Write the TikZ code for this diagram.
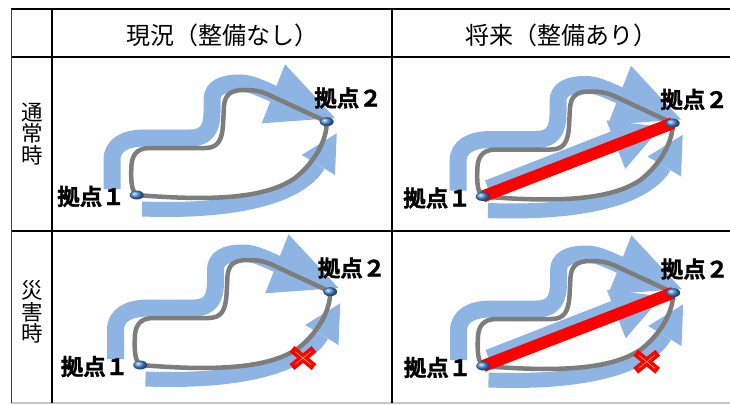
\documentclass[tikz,border=0pt]{standalone}
\usepackage{fontspec}
\usetikzlibrary{shapes.geometric}
\newfontfamily\jp{Noto Sans CJK JP}
\newfontfamily\jpb{Noto Sans CJK JP Bold}[FakeBold=1.5]
\definecolor{bandc}{RGB}{141,180,226}
\definecolor{road}{RGB}{125,125,125}
\definecolor{basec}{RGB}{75,140,215}
\definecolor{xin}{RGB}{255,190,40}
\tikzset{
 tbl/.style={line width=1.6pt, black},
 tblthin/.style={line width=1pt, black!75},
 tblbot/.style={line width=1.2pt, black!22},
 hdr/.style={font=\jp\fontsize{24}{26}\selectfont, inner sep=0pt},
 rowl/.style={font=\jp\fontsize{21.5}{21.5}\selectfont, align=center, inner sep=0pt},
 shaftA/.style={bandc, line width=17pt},
 shaftB/.style={bandc, line width=15pt},
 shaftC/.style={bandc, line width=18pt},
 arrowhd/.style={fill=bandc, draw=none},
 roadline/.style={road, line width=4.5pt, line cap=round},
 redline/.style={red, line width=12pt},
 basept/.style={ellipse, minimum width=14pt, minimum height=9pt, inner sep=0pt, ball color=basec},
 lbl/.style={font=\jpb\fontsize{22.5}{24}\selectfont, inner sep=0pt},
 xmark/.style={red, line width=7.5pt},
 xinner/.style={xin, line width=0.6pt},
}
\newcommand\mycell[4]{%
\begin{scope}[shift={(#1,#2)}]
\coordinate (p1#3) at (136.7,195);
\coordinate (p2#3) at (326.7,121.7);
\draw[shaftA] (112,189) -- (112,160) .. controls (112,145) and (125,138) .. (145,138) -- (190,138) .. controls (207,138) and (212,128) .. (212,112) -- (212,100) .. controls (212,88) and (222,83) .. (240,83) .. controls (251,83) and (262,89) .. (274,94);
\fill[arrowhd] (285,64.3) -- (335,118) -- (261.7,123.3) -- cycle;
\draw[shaftB] (142,209) .. controls (250,213) and (303,191) .. (318,165);
\fill[arrowhd] (301.7,155) -- (336.7,133.3) -- (335,175) -- cycle;
\ifnum#4=1
 \draw[shaftC] (142.3,187.4) -- (268,138.4);
 \fill[arrowhd] (279.2,167.3) -- (315.5,125.3) -- (260.4,118.9) -- cycle;
\fi
\draw[roadline] (p1#3) .. controls (131,190) and (131,180) .. (131.3,168) .. controls (131.5,156) and (136,148) .. (150,148) -- (205,148) .. controls (218,148) and (222,140) .. (223,125) -- (224,106) .. controls (225,95) and (230,90) .. (244,90) .. controls (254,90) and (260,91) .. (267,94) -- (p2#3);
\draw[roadline] (p1#3) .. controls (210,201) and (265,199) .. (295,178) .. controls (315,162) and (327,140) .. (p2#3);
\ifnum#4=1 \draw[redline] (p1#3) -- (p2#3); \fi
\node[basept] (b1#3) at (p1#3) {};
\node[basept] (b2#3) at (p2#3) {};
\node[lbl] (l1#3) at (91,196.5) {拠点１};
\node[lbl] (l2#3) at (348,98) {拠点２};
\end{scope}}
\newcommand\myx[3]{%
\begin{scope}[shift={(#1,#2)}]
\coordinate (x#3) at (0,0);
\draw[xmark] (-11,-9) -- (11,9);
\draw[xmark] (-11,9) -- (11,-9);
\draw[xinner] (-8,-6.5) -- (8,6.5);
\draw[xinner] (-8,6.5) -- (8,-6.5);
\end{scope}}
\begin{document}
\begin{tikzpicture}[x=1pt,y=-1pt]
\useasboundingbox (0,0) rectangle (730,404);
\fill[white] (0,0) rectangle (730,404);
\mycell{0}{0}{a}{0}
\mycell{346}{1.5}{b}{1}
\mycell{3.5}{170}{c}{0}
\mycell{346.5}{171}{d}{1}
\myx{303}{358}{c}
\myx{646.7}{361.7}{d}
\node[hdr] (h1) at (222,35) {現況（整備なし）};
\node[hdr] (h2) at (561,35) {将来（整備あり）};
\node[rowl] (r1) at (32,134) {通\\常\\時};
\node[rowl] (r2) at (32,312) {災\\害\\時};
\draw[tbl] (11,9) -- (730,9);
\draw[tbl] (11,57) -- (730,57);
\draw[tbl] (11,231) -- (730,231);
\draw[tblbot] (11,403) -- (730,403);
\draw[tblthin] (11.5,9) -- (11.5,403);
\draw[tbl] (52,9) -- (52,403);
\draw[tbl] (392,9) -- (392,403);
\end{tikzpicture}
\end{document}
